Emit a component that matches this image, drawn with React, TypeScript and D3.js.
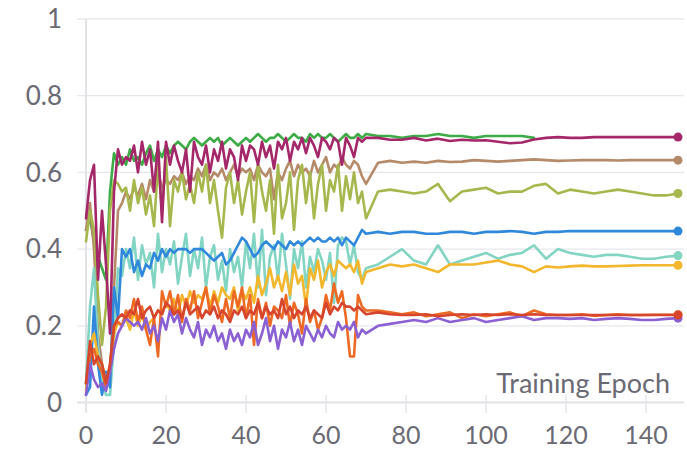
import React from "react";
import * as d3 from "d3";

// epochs: every epoch while the runs are noisy, then every third epoch
const earlyEpochs = [
  0, 1, 2, 3, 4, 5, 6, 7, 8, 9, 10, 11, 12, 13, 14, 15, 16, 17, 18, 19, 20, 21, 22, 23, 24, 25, 26, 27, 28,
  29, 30, 31, 32, 33, 34, 35, 36, 37, 38, 39, 40, 41, 42, 43, 44, 45, 46, 47, 48, 49, 50, 51, 52, 53, 54,
  55, 56, 57, 58, 59, 60, 61, 62, 63, 64, 65, 66, 67, 68, 69, 70,
];
const lateEpochs = [73, 76, 79, 82, 85, 88, 91, 94, 97, 100, 103, 106, 109, 112, 115, 118, 121, 124, 127, 130, 133, 136, 139, 142, 145, 148];

const xTicks = [0, 20, 40, 60, 80, 100, 120, 140];
const yTicks = [0, 0.2, 0.4, 0.6, 0.8, 1];
const yTickLabels = ["0", "0.2", "0.4", "0.6", "0.8", "1"];

const greenEarly = [
  0.45, 0.48, 0.42, 0.38, 0.35, 0.32, 0.55, 0.65, 0.62, 0.64,
  0.62, 0.66, 0.63, 0.64, 0.62, 0.65, 0.67, 0.63, 0.66, 0.64,
  0.67, 0.65, 0.67, 0.68, 0.67, 0.66, 0.68, 0.69, 0.68, 0.67,
  0.68, 0.69, 0.68, 0.69, 0.67, 0.68, 0.69, 0.68, 0.67, 0.68,
  0.69, 0.68, 0.69, 0.7, 0.69, 0.68, 0.69, 0.69, 0.7, 0.69,
  0.68, 0.69, 0.7, 0.69, 0.69, 0.68, 0.7, 0.69, 0.7, 0.69,
  0.69, 0.7, 0.69, 0.68, 0.69, 0.7, 0.69, 0.69, 0.7, 0.69,
  0.7,
];
const greenLate = [0.695, 0.695, 0.69, 0.695, 0.695, 0.7, 0.695, 0.695, 0.69, 0.695, 0.695, 0.695, 0.695, 0.69];

const maroonEarly = [
  0.48, 0.58, 0.62, 0.32, 0.5, 0.36, 0.18, 0.55, 0.66, 0.62,
  0.64, 0.63, 0.67, 0.6, 0.68, 0.62, 0.66, 0.55, 0.68, 0.47,
  0.68, 0.62, 0.67, 0.63, 0.6, 0.66, 0.55, 0.68, 0.64, 0.62,
  0.67, 0.6, 0.66, 0.63, 0.68, 0.61, 0.66, 0.64, 0.58, 0.67,
  0.63, 0.67, 0.66, 0.62, 0.68, 0.64, 0.67, 0.61, 0.68, 0.66,
  0.69, 0.63, 0.68, 0.66, 0.69, 0.65, 0.69, 0.67, 0.64, 0.69,
  0.68, 0.66, 0.69, 0.68, 0.62, 0.69, 0.67, 0.64, 0.69, 0.68,
  0.69,
];
const maroonLate = [
  0.69, 0.685, 0.685, 0.69, 0.683, 0.688, 0.682, 0.685, 0.683, 0.684, 0.68, 0.676, 0.678,
  0.686, 0.69, 0.692, 0.69, 0.69, 0.692, 0.692, 0.692, 0.692, 0.692, 0.692, 0.692, 0.692,
];

const brownEarly = [
  0.45, 0.52, 0.4, 0.18, 0.1, 0.06, 0.05, 0.3, 0.5, 0.52,
  0.55, 0.53, 0.56, 0.54, 0.57, 0.53, 0.58, 0.55, 0.6, 0.56,
  0.58, 0.57, 0.59, 0.58, 0.6, 0.57, 0.59, 0.58, 0.61, 0.59,
  0.62, 0.58, 0.6, 0.59, 0.61, 0.58, 0.6, 0.62, 0.59, 0.61,
  0.6, 0.61, 0.58, 0.62, 0.6, 0.59, 0.61, 0.53, 0.6, 0.58,
  0.61, 0.63, 0.59, 0.62, 0.6, 0.61, 0.59, 0.63, 0.6, 0.62,
  0.64, 0.6, 0.62, 0.61, 0.64, 0.62, 0.61, 0.63, 0.62, 0.59,
  0.57,
];
const brownLate = [
  0.625, 0.63, 0.625, 0.628, 0.625, 0.63, 0.627, 0.628, 0.632, 0.63, 0.628, 0.63, 0.632,
  0.634, 0.632, 0.63, 0.631, 0.632, 0.632, 0.632, 0.631, 0.632, 0.632, 0.632, 0.632, 0.632,
];

const oliveEarly = [
  0.42, 0.5, 0.45, 0.28, 0.15, 0.25, 0.5, 0.58, 0.57, 0.55,
  0.56, 0.5, 0.58, 0.52, 0.56, 0.49, 0.54, 0.46, 0.62, 0.5,
  0.64, 0.46, 0.58, 0.55, 0.6, 0.53, 0.57, 0.52, 0.6, 0.55,
  0.62, 0.52, 0.58, 0.5, 0.43, 0.56, 0.6, 0.52, 0.58, 0.49,
  0.55, 0.6, 0.47, 0.62, 0.55, 0.5, 0.58, 0.44, 0.62, 0.48,
  0.52, 0.6, 0.45, 0.58, 0.62, 0.52, 0.6, 0.48, 0.57, 0.62,
  0.5, 0.58, 0.55, 0.62, 0.5, 0.59, 0.53, 0.6, 0.52, 0.55,
  0.48,
];
const oliveLate = [
  0.55, 0.555, 0.55, 0.545, 0.55, 0.57, 0.525, 0.55, 0.555, 0.56, 0.545, 0.55, 0.55,
  0.565, 0.57, 0.545, 0.555, 0.55, 0.545, 0.55, 0.555, 0.55, 0.545, 0.54, 0.54, 0.545,
];

const blueEarly = [
  0.02, 0.04, 0.25, 0.1, 0.02, 0.08, 0.04, 0.3, 0.22, 0.4,
  0.38, 0.4, 0.34, 0.37, 0.33, 0.36, 0.35, 0.39, 0.37, 0.4,
  0.38, 0.4, 0.39, 0.4, 0.4, 0.4, 0.39, 0.4, 0.4, 0.4,
  0.39, 0.38, 0.37, 0.38, 0.39, 0.36, 0.37, 0.39, 0.41, 0.43,
  0.42, 0.4, 0.38, 0.39, 0.41, 0.42, 0.41, 0.4, 0.42, 0.41,
  0.4, 0.42, 0.41, 0.42, 0.41, 0.42, 0.43, 0.42, 0.43, 0.42,
  0.42, 0.43, 0.42, 0.43, 0.41, 0.43, 0.42, 0.41, 0.43, 0.45,
  0.44,
];
const blueLate = [
  0.445, 0.44, 0.445, 0.445, 0.44, 0.44, 0.445, 0.445, 0.44, 0.445, 0.445, 0.447, 0.445,
  0.44, 0.445, 0.445, 0.447, 0.447, 0.447, 0.447, 0.447, 0.447, 0.447, 0.447, 0.447, 0.447,
];

const tealEarly = [
  0.05, 0.25, 0.35, 0.15, 0.05, 0.02, 0.02, 0.15, 0.35, 0.33,
  0.4, 0.35, 0.43, 0.32, 0.41, 0.36, 0.39, 0.3, 0.44, 0.34,
  0.4, 0.36, 0.42, 0.31, 0.38, 0.44, 0.33, 0.4, 0.35, 0.43,
  0.3, 0.38, 0.41, 0.32, 0.37, 0.29, 0.4, 0.34, 0.38, 0.3,
  0.42, 0.35, 0.44, 0.3, 0.45, 0.28, 0.38, 0.41, 0.32, 0.44,
  0.36, 0.27, 0.4, 0.35, 0.42, 0.3, 0.38, 0.34, 0.4, 0.37,
  0.32, 0.39, 0.26, 0.41, 0.43, 0.42, 0.36, 0.41, 0.34, 0.32,
  0.35,
];
const tealLate = [
  0.36, 0.38, 0.4, 0.37, 0.36, 0.41, 0.36, 0.37, 0.38, 0.39, 0.375, 0.385, 0.39,
  0.41, 0.375, 0.4, 0.39, 0.385, 0.38, 0.385, 0.385, 0.38, 0.375, 0.375, 0.38, 0.383,
];

const yellowEarly = [
  0.03, 0.15, 0.18, 0.12, 0.1, 0.05, 0.08, 0.18, 0.21, 0.2,
  0.22, 0.19, 0.24, 0.2, 0.23, 0.19, 0.21, 0.22, 0.24, 0.23,
  0.26, 0.24, 0.27, 0.23, 0.28, 0.25, 0.29, 0.26, 0.28, 0.27,
  0.3, 0.25, 0.29, 0.26, 0.3, 0.28, 0.27, 0.3, 0.24, 0.29,
  0.27, 0.3, 0.26, 0.33, 0.28, 0.31, 0.35, 0.3, 0.33, 0.29,
  0.34, 0.28, 0.36, 0.31, 0.33, 0.25, 0.35, 0.32, 0.37, 0.3,
  0.34, 0.36, 0.33, 0.37, 0.36, 0.35, 0.36, 0.34, 0.37, 0.31,
  0.34,
];
const yellowLate = [
  0.35, 0.36, 0.355, 0.36, 0.35, 0.34, 0.36, 0.36, 0.36, 0.365, 0.37, 0.36, 0.355,
  0.34, 0.355, 0.352, 0.355, 0.357, 0.355, 0.355, 0.356, 0.357, 0.358, 0.358, 0.358, 0.358,
];

const redEarly = [
  0.05, 0.16, 0.1, 0.12, 0.1, 0.05, 0.1, 0.2, 0.22, 0.23,
  0.22, 0.24, 0.23, 0.27, 0.22, 0.24, 0.25, 0.22, 0.24, 0.23,
  0.26, 0.25, 0.23, 0.24, 0.22, 0.26, 0.23, 0.24, 0.25, 0.22,
  0.24, 0.23, 0.25, 0.22, 0.24, 0.23, 0.21, 0.24, 0.23, 0.25,
  0.22, 0.24, 0.23, 0.26, 0.22, 0.25, 0.23, 0.24, 0.22, 0.27,
  0.23, 0.25, 0.22, 0.24, 0.23, 0.25, 0.22, 0.24, 0.23, 0.22,
  0.26, 0.23, 0.25, 0.24, 0.26, 0.25, 0.25, 0.24, 0.25, 0.24,
  0.23,
];
const redLate = [
  0.235, 0.23, 0.228, 0.228, 0.23, 0.225, 0.228, 0.23, 0.228, 0.23, 0.228, 0.23, 0.228,
  0.23, 0.228, 0.228, 0.228, 0.228, 0.228, 0.228, 0.228, 0.228, 0.228, 0.228, 0.228, 0.228,
];

const orangeEarly = [
  0.05, 0.12, 0.14, 0.1, 0.08, 0.04, 0.1, 0.2, 0.21, 0.2,
  0.24, 0.22, 0.27, 0.21, 0.25, 0.19, 0.15, 0.22, 0.12, 0.29,
  0.25, 0.29, 0.23, 0.28, 0.21, 0.27, 0.24, 0.29, 0.22, 0.26,
  0.3, 0.23, 0.28, 0.25, 0.21, 0.27, 0.22, 0.29, 0.25, 0.3,
  0.22, 0.28, 0.15, 0.27, 0.22, 0.26, 0.2, 0.25, 0.24, 0.22,
  0.28, 0.2, 0.26, 0.23, 0.18, 0.27, 0.21, 0.24, 0.19, 0.22,
  0.28, 0.24, 0.31, 0.26, 0.29, 0.22, 0.12, 0.12, 0.28, 0.25,
  0.24,
];
const orangeLate = [
  0.24, 0.235, 0.23, 0.235, 0.225, 0.23, 0.235, 0.22, 0.23, 0.225, 0.23, 0.235, 0.225,
  0.24, 0.23, 0.228, 0.228, 0.23, 0.226, 0.228, 0.23, 0.228, 0.228, 0.229, 0.229, 0.229,
];

const purpleEarly = [
  0.02, 0.1, 0.06, 0.04, 0.05, 0.03, 0.08, 0.14, 0.18, 0.2,
  0.22, 0.21, 0.2, 0.21, 0.19, 0.22, 0.18, 0.2, 0.16, 0.22,
  0.19, 0.24, 0.21, 0.23, 0.18, 0.22, 0.19, 0.17, 0.21, 0.15,
  0.19, 0.17, 0.2, 0.16, 0.18, 0.14, 0.19, 0.16, 0.18, 0.15,
  0.19, 0.17, 0.21, 0.15, 0.18, 0.22, 0.16, 0.2, 0.14, 0.19,
  0.17, 0.21, 0.16, 0.19, 0.15, 0.2, 0.18, 0.16, 0.19, 0.17,
  0.2, 0.18, 0.17, 0.21, 0.19, 0.2, 0.19, 0.21, 0.17, 0.19,
  0.18,
];
const purpleLate = [
  0.2, 0.205, 0.21, 0.215, 0.21, 0.22, 0.21, 0.215, 0.22, 0.21, 0.215, 0.22, 0.225,
  0.215, 0.22, 0.22, 0.218, 0.22, 0.215, 0.218, 0.22, 0.218, 0.215, 0.215, 0.218, 0.22,
];

interface Run {
  key: string;
  color: string;
  values: number[];
  dot: boolean;
}

// drawing order, bottom to top
const runs: Run[] = [
  { key: "green", color: "#3dab46", values: greenEarly.concat(greenLate), dot: false },
  { key: "brown", color: "#b58a68", values: brownEarly.concat(brownLate), dot: true },
  { key: "olive", color: "#a6b84d", values: oliveEarly.concat(oliveLate), dot: true },
  { key: "teal", color: "#82d4c3", values: tealEarly.concat(tealLate), dot: true },
  { key: "blue", color: "#2f88db", values: blueEarly.concat(blueLate), dot: true },
  { key: "yellow", color: "#f3b72e", values: yellowEarly.concat(yellowLate), dot: true },
  { key: "orange", color: "#ec6a24", values: orangeEarly.concat(orangeLate), dot: true },
  { key: "purple", color: "#8b60d3", values: purpleEarly.concat(purpleLate), dot: true },
  { key: "red", color: "#d6452d", values: redEarly.concat(redLate), dot: true },
  { key: "maroon", color: "#a4276a", values: maroonEarly.concat(maroonLate), dot: true },
];

const epochs = earlyEpochs.concat(lateEpochs);

const width = 687;
const height = 451;
const font = "Lato, 'Source Sans Pro', 'Noto Sans', sans-serif";
const textColor = "#6a6a74";

export default function App(): React.ReactElement {
  const x = d3.scaleLinear().domain([0, 140]).range([86, 646]);
  const y = d3.scaleLinear().domain([0, 1]).range([402.5, 19]);

  const line = d3
    .line<[number, number]>()
    .x((d) => x(d[0]))
    .y((d) => y(d[1]));

  return (
    <svg
      width={width}
      height={height}
      style={{ position: "absolute", left: 0, top: 0, background: "#fff" }}
      fontFamily={font}
    >
      {/* grid */}
      {yTicks.slice(1).map((t) => (
        <line key={t} x1={77} x2={684} y1={y(t)} y2={y(t)} stroke="#e8e8ec" strokeWidth={1.3} />
      ))}
      <line x1={86} x2={86} y1={y(1)} y2={412} stroke="#e2e2e6" strokeWidth={2} />
      <line x1={77} x2={684} y1={y(0)} y2={y(0)} stroke="#e2e2e6" strokeWidth={2.2} />
      {xTicks.map((t) => (
        <line key={t} x1={x(t)} x2={x(t)} y1={395} y2={413} stroke="#e6e6ea" strokeWidth={1.5} />
      ))}

      {/* tick labels */}
      {yTicks.map((t, i) => (
        <text key={t} x={62} y={y(t)} dy="0.36em" textAnchor="end" fontSize={26} fill={textColor}>
          {yTickLabels[i]}
        </text>
      ))}
      {xTicks.map((t) => (
        <text key={t} x={x(t)} y={444} textAnchor="middle" fontSize={25} fill={textColor}>
          {t}
        </text>
      ))}

      {/* runs */}
      {runs.map((r) => {
        const pts = r.values.map((v, i) => [epochs[i], v] as [number, number]);
        const last = pts[pts.length - 1];
        return (
          <g key={r.key}>
            <path
              d={line(pts) ?? ""}
              fill="none"
              stroke={r.color}
              strokeWidth={2.6}
              strokeLinejoin="round"
              strokeLinecap="round"
            />
            {r.dot && <circle cx={x(last[0])} cy={y(last[1])} r={4.5} fill={r.color} />}
          </g>
        );
      })}

      <text x={670} y={393} textAnchor="end" fontSize={27} fill={textColor}>
        Training Epoch
      </text>
    </svg>
  );
}
